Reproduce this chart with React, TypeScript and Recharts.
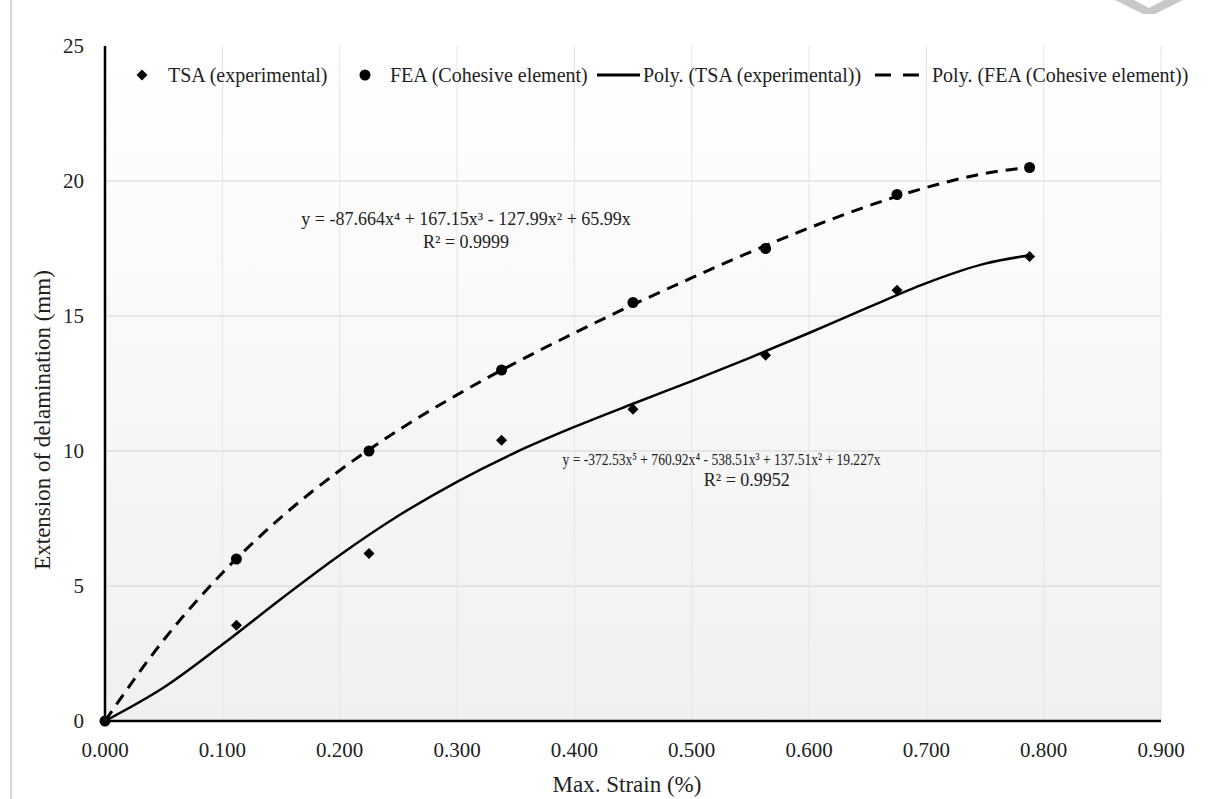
import React from "react";
import {
  CartesianGrid,
  ComposedChart,
  Legend,
  Line,
  ReferenceDot,
  Scatter,
  XAxis,
  YAxis,
} from "recharts";

const FONT = '"Liberation Serif", "Times New Roman", serif';

// measured points
const strain = [0, 0.112, 0.225, 0.338, 0.45, 0.563, 0.675, 0.788];
const tsaExperimental = [0, 3.55, 6.2, 10.4, 11.55, 13.55, 15.95, 17.2];
const feaCohesive = [0, 6.0, 10.0, 13.0, 15.5, 17.5, 19.5, 20.5];

// trendlines
const trendStrain = [0, 0.05, 0.1, 0.15, 0.2, 0.25, 0.3, 0.35, 0.4, 0.45, 0.5, 0.55, 0.6, 0.65, 0.7, 0.75, 0.788];
const tsaTrend = [0, 1.24, 2.83, 4.52, 6.14, 7.6, 8.86, 9.95, 10.89, 11.75, 12.59, 13.46, 14.37, 15.31, 16.22, 16.94, 17.25];
const feaTrend = [0, 3.0, 5.48, 7.54, 9.28, 10.77, 12.08, 13.27, 14.37, 15.42, 16.41, 17.37, 18.26, 19.07, 19.76, 20.28, 20.51];

const xTicks = [0, 0.1, 0.2, 0.3, 0.4, 0.5, 0.6, 0.7, 0.8, 0.9];
const yTicks = [0, 5, 10, 15, 20, 25];
const hGrid = [5, 10, 15, 20];
const vGrid = [0.1, 0.2, 0.3, 0.4, 0.5, 0.6, 0.7, 0.8, 0.9];

const seriesNames = [
  "TSA (experimental)",
  "FEA (Cohesive element)",
  "Poly. (TSA (experimental))",
  "Poly. (FEA (Cohesive element))",
];

const equationText = [
  "y = -87.664x⁴ + 167.15x³ - 127.99x² + 65.99x",
  "R² = 0.9999",
  "y = -372.53x⁵ + 760.92x⁴ - 538.51x³ + 137.51x² + 19.227x",
  "R² = 0.9952",
];
const equationX = [0.3077, 0.3077, 0.5254, 0.547];
const equationY = [18.6, 17.75, 9.7, 8.92];

const tsaPoints = strain.map((x, i) => ({ x, y: tsaExperimental[i] }));
const feaPoints = strain.map((x, i) => ({ x, y: feaCohesive[i] }));
const tsaLine = trendStrain.map((x, i) => ({ x, y: tsaTrend[i] }));
const feaLine = trendStrain.map((x, i) => ({ x, y: feaTrend[i] }));

const Diamond = (props: any) => {
  const { cx, cy } = props;
  if (cx == null || cy == null) return null;
  const r = 5.5;
  return <polygon points={`${cx},${cy - r} ${cx + r},${cy} ${cx},${cy + r} ${cx - r},${cy}`} fill="#000" />;
};

const Dot = (props: any) => {
  const { cx, cy } = props;
  if (cx == null || cy == null) return null;
  return <circle cx={cx} cy={cy} r={5.5} fill="#000" />;
};

const XTick = ({ x, y, payload }: any) => (
  <text x={x} y={y} dy="0.71em" textAnchor="middle" fontSize={21} fontFamily={FONT} fill="#222">
    {Number(payload.value).toFixed(3)}
  </text>
);

const YTick = ({ x, y, payload }: any) => (
  <text x={x} y={y} dy="0.355em" textAnchor="end" fontSize={21} fontFamily={FONT} fill="#222">
    {payload.value}
  </text>
);

// the long TSA equation is set tighter in the original
const EquationLabel = ({ viewBox, value, size, squeeze }: any) => {
  if (!viewBox) return null;
  const cx = viewBox.x + viewBox.width / 2;
  const cy = viewBox.y + viewBox.height / 2;
  return (
    <text
      x={cx}
      y={cy}
      textAnchor="middle"
      dominantBaseline="central"
      fontSize={size}
      fontFamily={FONT}
      fill="#222"
      {...(squeeze ? { textLength: squeeze, lengthAdjust: "spacingAndGlyphs" } : {})}
    >
      {value}
    </text>
  );
};

function ChartLegend() {
  const text = { position: "absolute" as const, top: 0, lineHeight: "24px", fontSize: 20, color: "#222", whiteSpace: "nowrap" as const };
  return (
    <div style={{ position: "relative", width: 1227, height: 24, fontFamily: FONT }}>
      <svg width={1227} height={24} style={{ position: "absolute", left: 0, top: 0 }}>
        <polygon points="142,6.5 147.5,12 142,17.5 136.5,12" fill="#000" />
        <circle cx={365} cy={12} r={5.5} fill="#000" />
        <line x1={597} x2={640} y1={12} y2={12} stroke="#000" strokeWidth={3} />
        <line x1={875} x2={919} y1={12} y2={12} stroke="#000" strokeWidth={3} strokeDasharray="16 12" />
      </svg>
      <span style={{ ...text, left: 168 }}>{seriesNames[0]}</span>
      <span style={{ ...text, left: 390 }}>{seriesNames[1]}</span>
      <span style={{ ...text, left: 643 }}>{seriesNames[2]}</span>
      <span style={{ ...text, left: 932 }}>{seriesNames[3]}</span>
    </div>
  );
}

export default function App() {
  return (
    <div
      style={{
        position: "absolute",
        left: 0,
        top: 0,
        width: 1227,
        height: 799,
        background: "#fff",
        overflow: "hidden",
        fontFamily: FONT,
      }}
    >
      <div style={{ position: "absolute", left: 10, top: 0, width: 1.5, height: 799, background: "#d4d4d4" }} />
      <svg width={1227} height={20} style={{ position: "absolute", left: 0, top: 0 }}>
        <polygon points="1115,0 1134,0 1149,8 1164,0 1183,0 1155,14 1143,14" fill="#c8c8c8" />
      </svg>
      <ComposedChart
        width={1227}
        height={799}
        margin={{ top: 46, right: 66, bottom: 0, left: 0 }}
        style={{ position: "absolute", left: 0, top: 0, fontFamily: FONT }}
      >
        <defs>
          <linearGradient id="plotBg" x1="0" x2="0" y1="0" y2="1">
            <stop offset="0%" stopColor="#ffffff" />
            <stop offset="100%" stopColor="#f0f0f0" />
          </linearGradient>
        </defs>
        <CartesianGrid
          fill="url(#plotBg)"
          vertical={false}
          horizontalValues={hGrid}
          stroke="#d6d6d6"
          strokeWidth={1}
        />
        <CartesianGrid horizontal={false} verticalValues={vGrid} stroke="#e4e4e4" strokeWidth={1} />
        <XAxis
          dataKey="x"
          type="number"
          domain={[0, 0.9]}
          ticks={xTicks}
          height={78}
          axisLine={{ stroke: "#000", strokeWidth: 2.5 }}
          tickLine={false}
          tickSize={0}
          tickMargin={21}
          tick={<XTick />}
          interval={0}
          label={{
            content: () => (
              <text x={627} y={784} textAnchor="middle" dominantBaseline="central" fontSize={23} fontFamily={FONT} fill="#222">
                Max. Strain (%)
              </text>
            ),
          }}
        />
        <YAxis
          dataKey="y"
          type="number"
          domain={[0, 25]}
          ticks={yTicks}
          width={105}
          axisLine={{ stroke: "#000", strokeWidth: 2.5 }}
          tickLine={false}
          tickSize={0}
          tickMargin={21}
          tick={<YTick />}
          interval={0}
          label={{
            content: () => (
              <text
                x={42}
                y={420}
                transform="rotate(-90 42 420)"
                textAnchor="middle"
                dominantBaseline="central"
                fontSize={23}
                fontFamily={FONT}
                fill="#222"
              >
                Extension of delamination (mm)
              </text>
            ),
          }}
        />
        <Legend
          layout="horizontal"
          verticalAlign="middle"
          align="center"
          wrapperStyle={{ top: 63, left: 0, width: 1227, height: 24 }}
          content={() => <ChartLegend />}
        />
        <Line
          data={tsaLine}
          dataKey="y"
          name={seriesNames[2]}
          type="monotone"
          stroke="#000"
          strokeWidth={2.5}
          dot={false}
          activeDot={false}
          isAnimationActive={false}
        />
        <Line
          data={feaLine}
          dataKey="y"
          name={seriesNames[3]}
          type="monotone"
          stroke="#000"
          strokeWidth={3}
          strokeDasharray="12 8"
          dot={false}
          activeDot={false}
          isAnimationActive={false}
        />
        <Scatter data={tsaPoints} dataKey="y" name={seriesNames[0]} shape={Diamond} isAnimationActive={false} />
        <Scatter data={feaPoints} dataKey="y" name={seriesNames[1]} shape={Dot} isAnimationActive={false} />
        {equationText.map((t, i) => (
          <ReferenceDot
            key={t}
            x={equationX[i]}
            y={equationY[i]}
            r={1}
            fill="none"
            stroke="none"
            label={(props: any) => (
              <EquationLabel {...props} value={t} size={i === 2 ? 17.5 : 18} squeeze={i === 2 ? 318 : undefined} />
            )}
          />
        ))}
      </ComposedChart>
    </div>
  );
}
